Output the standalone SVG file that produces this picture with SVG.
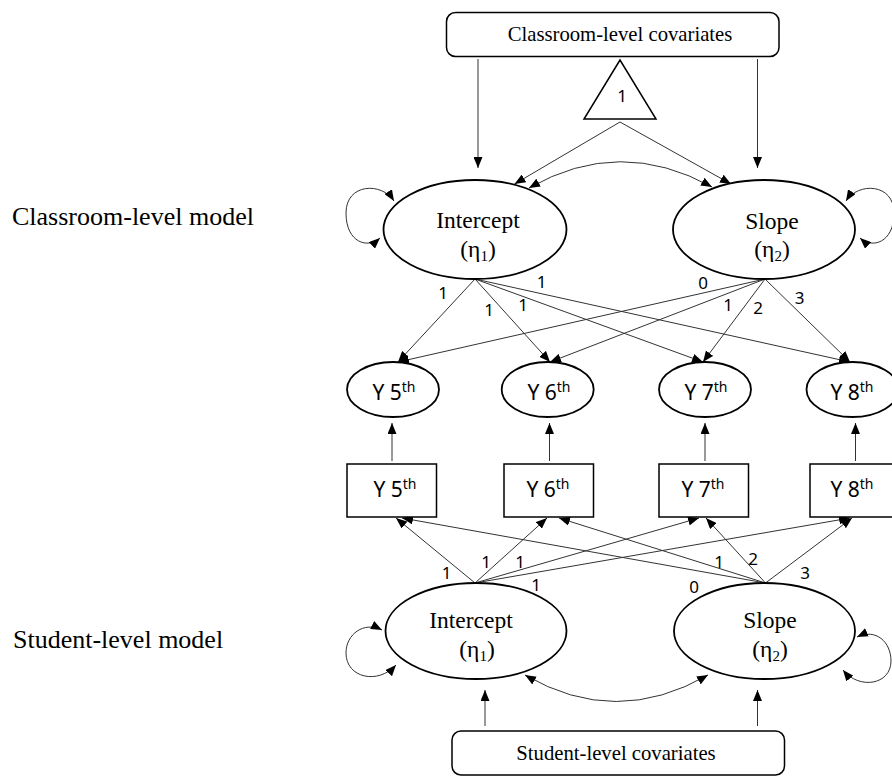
<svg xmlns="http://www.w3.org/2000/svg" width="892" height="776" viewBox="0 0 892 776">
  <style>
    .serif { font-family: "Liberation Serif", "Times New Roman", serif; fill: #000; }
    .sans { font-family: "Noto Sans", "Open Sans", "Liberation Sans", sans-serif; fill: #000; }
    .node { fill: #fff; stroke: #000; stroke-width: 1.8; }
    .box { fill: #fff; stroke: #000; stroke-width: 1.5; }
    .edge { fill: none; stroke: #333; stroke-width: 1; marker-end: url(#arr); }
    .both { fill: none; stroke: #333; stroke-width: 1; marker-start: url(#arr); marker-end: url(#arr); }
    .lbl { font-size: 17px; text-anchor: middle; }
    .lat { font-size: 23.5px; text-anchor: middle; }
    .obs { font-size: 21px; text-anchor: middle; }
    .cov { font-size: 20.7px; text-anchor: middle; }
    .side { font-size: 26px; }
  </style>
  <defs>
    <marker id="arr" markerUnits="userSpaceOnUse" markerWidth="11" markerHeight="9" refX="11" refY="4.5" orient="auto-start-reverse">
      <path d="M0,0 L11,4.5 L0,9 z" fill="#000"/>
    </marker>
  </defs>
  <rect width="892" height="776" fill="#fff"/>

  <!-- level labels -->
  <text class="serif side" x="12" y="225">Classroom-level model</text>
  <text class="serif side" x="13" y="648">Student-level model</text>

  <!-- connectors -->
  <g id="connectors">
    <!-- classroom covariates to latent factors -->
    <line class="edge" x1="478" y1="59" x2="478" y2="168"/>
    <line class="edge" x1="757.5" y1="59" x2="757.5" y2="168"/>
    <!-- constant to latent factors -->
    <line class="edge" x1="620" y1="122" x2="514.5" y2="184"/>
    <line class="edge" x1="620" y1="122" x2="731" y2="184"/>
    <!-- classroom factor covariance -->
    <path class="both" d="M529,188 Q620,136 712,187"/>
    <!-- classroom variances -->
    <path class="both" d="M394,201 C382,182 346,183 346,213 C346,243 368,249 380,238"/>
    <path class="both" d="M846,201 C858,182 894,183 894,213 C894,243 872,249 860,238"/>
    <!-- classroom loadings: intercept -->
    <line class="edge" x1="475" y1="279" x2="398" y2="362"/>
    <line class="edge" x1="475" y1="279" x2="550" y2="362"/>
    <line class="edge" x1="475" y1="279" x2="703" y2="362"/>
    <line class="edge" x1="475" y1="279" x2="850" y2="362"/>
    <!-- classroom loadings: slope -->
    <line class="edge" x1="765" y1="279" x2="398" y2="362"/>
    <line class="edge" x1="765" y1="279" x2="550" y2="362"/>
    <line class="edge" x1="765" y1="279" x2="703" y2="362"/>
    <line class="edge" x1="765" y1="279" x2="850" y2="362"/>
    <!-- observed to classroom-level parts -->
    <line class="edge" x1="392" y1="461" x2="392" y2="423"/>
    <line class="edge" x1="549.5" y1="461" x2="549.5" y2="423"/>
    <line class="edge" x1="705" y1="461" x2="705" y2="423"/>
    <line class="edge" x1="855.5" y1="461" x2="855.5" y2="423"/>
    <!-- student loadings: intercept -->
    <line class="edge" x1="475" y1="583" x2="396" y2="518"/>
    <line class="edge" x1="475" y1="583" x2="547" y2="518"/>
    <line class="edge" x1="475" y1="583" x2="699" y2="518"/>
    <line class="edge" x1="475" y1="583" x2="850" y2="518"/>
    <!-- student loadings: slope -->
    <line class="edge" x1="765.5" y1="583" x2="402" y2="518"/>
    <line class="edge" x1="765.5" y1="583" x2="559" y2="518"/>
    <line class="edge" x1="765.5" y1="583" x2="706" y2="518"/>
    <line class="edge" x1="765.5" y1="583" x2="852" y2="518"/>
    <!-- student factor covariance -->
    <path class="both" d="M525,675 Q616,728 708,675"/>
    <!-- student variances -->
    <path class="both" d="M382,630 C364,621 346,634 346,653 C346,678 378,685 396,665"/>
    <path class="both" d="M857,637 C876,628 891,642 891,661 C891,685 859,690 843,670"/>
    <!-- student covariates to latent factors -->
    <line class="edge" x1="485" y1="726" x2="485" y2="690"/>
    <line class="edge" x1="757.5" y1="726" x2="757.5" y2="690"/>
  </g>

  <!-- loading labels -->
  <g id="loading-labels" class="sans lbl">
    <text x="443" y="299">1</text>
    <text x="489" y="316">1</text>
    <text x="523" y="311">1</text>
    <text x="541.5" y="288">1</text>
    <text x="703" y="289">0</text>
    <text x="728" y="311">1</text>
    <text x="758" y="314">2</text>
    <text x="799.5" y="304">3</text>
    <text x="446.5" y="579">1</text>
    <text x="486" y="568">1</text>
    <text x="520" y="568">1</text>
    <text x="536" y="591">1</text>
    <text x="719" y="568">1</text>
    <text x="753" y="565">2</text>
    <text x="694" y="593">0</text>
    <text x="805" y="579">3</text>
  </g>

  <!-- classroom level -->
  <g id="classroom-covariates">
    <rect class="box" x="446.5" y="12.5" width="332.5" height="44" rx="9"/>
    <text class="serif cov" x="620" y="41">Classroom-level covariates</text>
  </g>
  <g id="constant">
    <polygon class="box" points="620,60 584,119 656,119"/>
    <text class="sans lbl" x="622" y="102">1</text>
  </g>
  <g id="classroom-intercept">
    <ellipse class="node" cx="475" cy="229.5" rx="91.5" ry="49.5"/>
    <text class="serif lat" x="478" y="228">Intercept</text>
    <text class="serif lat" x="478" y="257">(η<tspan font-size="15" dy="4">1</tspan><tspan dy="-4">)</tspan></text>
  </g>
  <g id="classroom-slope">
    <ellipse class="node" cx="764" cy="229.5" rx="91" ry="49.5"/>
    <text class="serif lat" x="772" y="229">Slope</text>
    <text class="serif lat" x="772" y="257">(η<tspan font-size="15" dy="4">2</tspan><tspan dy="-4">)</tspan></text>
  </g>

  <!-- classroom-level parts of the outcomes -->
  <g id="between-y5">
    <ellipse class="node" cx="393" cy="389.5" rx="46" ry="27.5"/>
    <text class="sans obs" x="394" y="400">Y 5<tspan font-size="14" dy="-8">th</tspan></text>
  </g>
  <g id="between-y6">
    <ellipse class="node" cx="547.7" cy="389.5" rx="46" ry="27.5"/>
    <text class="sans obs" x="549" y="400">Y 6<tspan font-size="14" dy="-8">th</tspan></text>
  </g>
  <g id="between-y7">
    <ellipse class="node" cx="705" cy="389.5" rx="46" ry="27.5"/>
    <text class="sans obs" x="706" y="400">Y 7<tspan font-size="14" dy="-8">th</tspan></text>
  </g>
  <g id="between-y8">
    <ellipse class="node" cx="852.5" cy="389.5" rx="46" ry="27.5"/>
    <text class="sans obs" x="852" y="400">Y 8<tspan font-size="14" dy="-8">th</tspan></text>
  </g>

  <!-- observed outcomes -->
  <g id="observed-y5">
    <rect class="box" x="347" y="464" width="89.5" height="53"/>
    <text class="sans obs" x="395" y="497">Y 5<tspan font-size="14" dy="-8">th</tspan></text>
  </g>
  <g id="observed-y6">
    <rect class="box" x="504" y="464" width="89.5" height="53"/>
    <text class="sans obs" x="548" y="497">Y 6<tspan font-size="14" dy="-8">th</tspan></text>
  </g>
  <g id="observed-y7">
    <rect class="box" x="659" y="464" width="89.5" height="53"/>
    <text class="sans obs" x="703" y="497">Y 7<tspan font-size="14" dy="-8">th</tspan></text>
  </g>
  <g id="observed-y8">
    <rect class="box" x="810" y="464" width="89.5" height="53"/>
    <text class="sans obs" x="852" y="497">Y 8<tspan font-size="14" dy="-8">th</tspan></text>
  </g>

  <!-- student level -->
  <g id="student-intercept">
    <ellipse class="node" cx="476" cy="631" rx="90.5" ry="48"/>
    <text class="serif lat" x="471" y="628">Intercept</text>
    <text class="serif lat" x="477" y="657">(η<tspan font-size="15" dy="4">1</tspan><tspan dy="-4">)</tspan></text>
  </g>
  <g id="student-slope">
    <ellipse class="node" cx="764.5" cy="631" rx="90.5" ry="48"/>
    <text class="serif lat" x="770" y="628">Slope</text>
    <text class="serif lat" x="770" y="657">(η<tspan font-size="15" dy="4">2</tspan><tspan dy="-4">)</tspan></text>
  </g>
  <g id="student-covariates">
    <rect class="box" x="452" y="731" width="332.5" height="44" rx="9"/>
    <text class="serif cov" x="616" y="760">Student-level covariates</text>
  </g>
</svg>
